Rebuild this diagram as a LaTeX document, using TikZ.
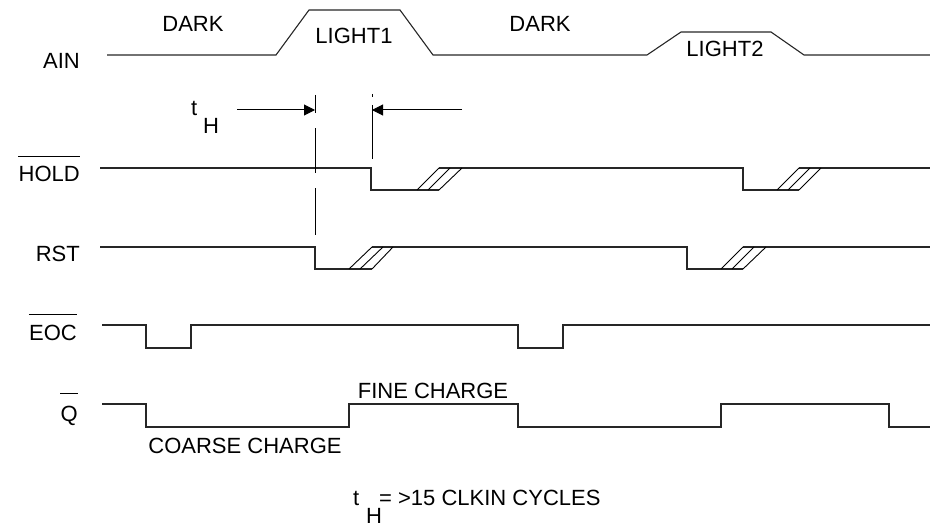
\documentclass[tikz,border=0pt]{standalone}
\usepackage{fontspec}
\setmainfont{Liberation Sans}
\usetikzlibrary{arrows.meta}
\begin{document}
\begin{tikzpicture}[x=1pt,y=-1pt,
  sig/.style={line width=1.1pt, black!85, line join=miter},
  hatch/.style={line width=0.9pt, black},
  tick/.style={line width=1pt, black},
  dimarrow/.style={line width=1pt, black, -{Triangle[length=11pt,width=11pt]}},
  ovl/.style={line width=1pt, black},
  lbl/.style={inner sep=0pt, font=\fontsize{22}{24}\selectfont}]
\useasboundingbox (0,0) rectangle (930,527);

% AIN
\draw[sig] (107,55) -- (276,55) -- (309,10) -- (400,10) -- (433,55) -- (647,55) -- (681,32) -- (771,32) -- (804,55) -- (930,55);
\node[lbl, anchor=base] (dark1) at (193,32) {DARK};
\node[lbl, anchor=base] (light1) at (354,44) {LIGHT1};
\node[lbl, anchor=base] (dark2) at (540,32) {DARK};
\node[lbl, anchor=base] (light2) at (725,57) {LIGHT2};

% HOLD
\draw[sig] (100,168) -- (371,168) -- (371,190) -- (439,190);
\draw[sig] (439,168) -- (743,168) -- (743,190) -- (799,190);
\draw[sig] (799,168) -- (930,168);
\draw[hatch] (417,190) -- (439,168) (428,190) -- (450,168) (439,190) -- (462,168);
\draw[hatch] (777,190) -- (799,168) (788,190) -- (810,168) (799,190) -- (821,168);

% RST
\draw[sig] (100,247) -- (315,247) -- (315,269) -- (372,269);
\draw[sig] (372,247) -- (687,247) -- (687,269) -- (743,269);
\draw[sig] (743,247) -- (930,247);
\draw[hatch] (349,269) -- (372,247) (360,269) -- (383,247) (372,269) -- (393,247);
\draw[hatch] (721,269) -- (743,247) (732,269) -- (754,247) (743,269) -- (766,247);

% EOC
\draw[sig] (102,325) -- (146,325) -- (146,348) -- (191,348) -- (191,325) -- (518,325) -- (518,348) -- (563,348) -- (563,325) -- (930,325);

% Q
\draw[sig] (102,404) -- (146,404) -- (146,427) -- (349,427) -- (349,404) -- (518,404) -- (518,427) -- (721,427) -- (721,404) -- (889,404) -- (889,427) -- (930,427);
\node[lbl, anchor=base] (fine) at (433,398) {FINE CHARGE};
\node[lbl, anchor=base] (coarse) at (245,453) {COARSE CHARGE};

% t_H markers
\coordinate (ta) at (315,110);
\coordinate (tb) at (372,110);
\coordinate (la) at (237,110);
\coordinate (lb) at (462,110);
\draw[tick] (315,95) -- (315,113) (315,128) -- (315,173) (315,188) -- (315,235);
\draw[tick] (372,94) -- (372,97) (372,105) -- (372,159);
\draw[dimarrow] (la) -- (ta);
\draw[dimarrow] (lb) -- (tb);
\node[lbl, anchor=base west] (t1) at (191,115) {t};
\node[lbl, anchor=base west] (h1) at (203,133) {H};

% left labels
\node[lbl, anchor=base east] (ain) at (80,69) {AIN};
\node[lbl, anchor=base east] (hold) at (80,181) {HOLD};
\draw[ovl] ([yshift=9pt]hold.north west) -- ([yshift=9pt]hold.north east);
\node[lbl, anchor=base east] (rst) at (80,261) {RST};
\node[lbl, anchor=base east] (eoc) at (77,340) {EOC};
\draw[ovl] ([yshift=10pt]eoc.north west) -- ([yshift=10pt]eoc.north east);
\node[lbl, anchor=base east] (q) at (78,421) {Q};
\draw[ovl] ([yshift=12pt]q.north west) -- ([yshift=12pt]q.north east);

% footnote
\node[lbl, anchor=base west] (t2) at (353,505) {t};
\node[lbl, anchor=base west] (h2) at (366,523) {H};
\node[lbl, anchor=base west] (note) at (379,505) {= >15 CLKIN CYCLES};
\end{tikzpicture}
\end{document}
